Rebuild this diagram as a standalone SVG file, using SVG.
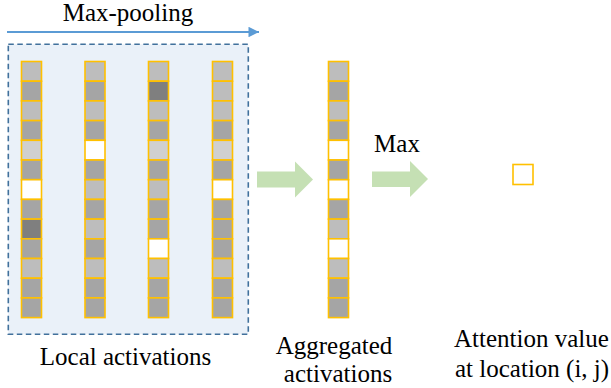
<svg xmlns="http://www.w3.org/2000/svg" width="611" height="388" viewBox="0 0 611 388">
<style>
  text { font-family: 'Liberation Serif', 'Times New Roman', Tinos, 'DejaVu Serif', serif; font-size: 25px; fill: #000; }
  .c rect { stroke: #ffc000; stroke-width: 1.6; }
  .a { fill: #bdbdbd; }
  .b { fill: #a5a5a5; }
  .l { fill: #d0d0d0; }
  .d { fill: #7f7f7f; }
  .w { fill: #ffffff; }
  .garrow { fill: #c5e0b4; }
</style>
<defs>
  <marker id="bh" viewBox="0 0 10 10" refX="10" refY="5" markerWidth="11" markerHeight="10.5" markerUnits="userSpaceOnUse" orient="auto">
    <path d="M0,0 L10,5 L0,10 z" fill="#5b9bd5"/>
  </marker>
</defs>
<rect width="611" height="388" fill="#ffffff"/>

<g id="local-activations">
  <rect x="8.3" y="44.3" width="240" height="290" fill="#eaf1f9" stroke="#41719c" stroke-width="1.6" stroke-dasharray="5.5,3.5"/>
  <g id="col1" class="c" transform="translate(21.5,61.5)">
    <rect class="a" x="0" y="0" width="20" height="19.7"/>
    <rect class="b" x="0" y="19.7" width="20" height="19.7"/>
    <rect class="a" x="0" y="39.4" width="20" height="19.7"/>
    <rect class="b" x="0" y="59.1" width="20" height="19.7"/>
    <rect class="l" x="0" y="78.8" width="20" height="19.7"/>
    <rect class="b" x="0" y="98.5" width="20" height="19.7"/>
    <rect class="w" x="0" y="118.2" width="20" height="19.7"/>
    <rect class="b" x="0" y="137.9" width="20" height="19.7"/>
    <rect class="d" x="0" y="157.6" width="20" height="19.7"/>
    <rect class="b" x="0" y="177.3" width="20" height="19.7"/>
    <rect class="a" x="0" y="197" width="20" height="19.7"/>
    <rect class="b" x="0" y="216.7" width="20" height="19.7"/>
    <rect class="b" x="0" y="236.4" width="20" height="19.7"/>
  </g>
  <g id="col2" class="c" transform="translate(85,61.5)">
    <rect class="a" x="0" y="0" width="20" height="19.7"/>
    <rect class="b" x="0" y="19.7" width="20" height="19.7"/>
    <rect class="a" x="0" y="39.4" width="20" height="19.7"/>
    <rect class="b" x="0" y="59.1" width="20" height="19.7"/>
    <rect class="w" x="0" y="78.8" width="20" height="19.7"/>
    <rect class="b" x="0" y="98.5" width="20" height="19.7"/>
    <rect class="a" x="0" y="118.2" width="20" height="19.7"/>
    <rect class="b" x="0" y="137.9" width="20" height="19.7"/>
    <rect class="a" x="0" y="157.6" width="20" height="19.7"/>
    <rect class="b" x="0" y="177.3" width="20" height="19.7"/>
    <rect class="a" x="0" y="197" width="20" height="19.7"/>
    <rect class="b" x="0" y="216.7" width="20" height="19.7"/>
    <rect class="b" x="0" y="236.4" width="20" height="19.7"/>
  </g>
  <g id="col3" class="c" transform="translate(148.5,61.5)">
    <rect class="a" x="0" y="0" width="20" height="19.7"/>
    <rect class="d" x="0" y="19.7" width="20" height="19.7"/>
    <rect class="a" x="0" y="39.4" width="20" height="19.7"/>
    <rect class="b" x="0" y="59.1" width="20" height="19.7"/>
    <rect class="l" x="0" y="78.8" width="20" height="19.7"/>
    <rect class="b" x="0" y="98.5" width="20" height="19.7"/>
    <rect class="a" x="0" y="118.2" width="20" height="19.7"/>
    <rect class="b" x="0" y="137.9" width="20" height="19.7"/>
    <rect class="b" x="0" y="157.6" width="20" height="19.7"/>
    <rect class="w" x="0" y="177.3" width="20" height="19.7"/>
    <rect class="a" x="0" y="197" width="20" height="19.7"/>
    <rect class="b" x="0" y="216.7" width="20" height="19.7"/>
    <rect class="b" x="0" y="236.4" width="20" height="19.7"/>
  </g>
  <g id="col4" class="c" transform="translate(212.5,61.5)">
    <rect class="a" x="0" y="0" width="20" height="19.7"/>
    <rect class="a" x="0" y="19.7" width="20" height="19.7"/>
    <rect class="a" x="0" y="39.4" width="20" height="19.7"/>
    <rect class="b" x="0" y="59.1" width="20" height="19.7"/>
    <rect class="l" x="0" y="78.8" width="20" height="19.7"/>
    <rect class="b" x="0" y="98.5" width="20" height="19.7"/>
    <rect class="w" x="0" y="118.2" width="20" height="19.7"/>
    <rect class="b" x="0" y="137.9" width="20" height="19.7"/>
    <rect class="b" x="0" y="157.6" width="20" height="19.7"/>
    <rect class="b" x="0" y="177.3" width="20" height="19.7"/>
    <rect class="a" x="0" y="197" width="20" height="19.7"/>
    <rect class="b" x="0" y="216.7" width="20" height="19.7"/>
    <rect class="b" x="0" y="236.4" width="20" height="19.7"/>
  </g>
  <text x="125.5" y="365" text-anchor="middle" font-family="Liberation Serif, serif">Local activations</text>
</g>

<g id="aggregated">
  <g class="c" transform="translate(328.5,61.5)">
    <rect class="a" x="0" y="0" width="20" height="19.7"/>
    <rect class="b" x="0" y="19.7" width="20" height="19.7"/>
    <rect class="a" x="0" y="39.4" width="20" height="19.7"/>
    <rect class="b" x="0" y="59.1" width="20" height="19.7"/>
    <rect class="w" x="0" y="78.8" width="20" height="19.7"/>
    <rect class="b" x="0" y="98.5" width="20" height="19.7"/>
    <rect class="w" x="0" y="118.2" width="20" height="19.7"/>
    <rect class="b" x="0" y="137.9" width="20" height="19.7"/>
    <rect class="a" x="0" y="157.6" width="20" height="19.7"/>
    <rect class="w" x="0" y="177.3" width="20" height="19.7"/>
    <rect class="a" x="0" y="197" width="20" height="19.7"/>
    <rect class="b" x="0" y="216.7" width="20" height="19.7"/>
    <rect class="b" x="0" y="236.4" width="20" height="19.7"/>
  </g>
  <text x="334" y="354" text-anchor="middle">Aggregated</text>
  <text x="338" y="382" text-anchor="middle">activations</text>
</g>

<g id="attention">
  <rect x="513" y="164.5" width="20" height="20" fill="#ffffff" stroke="#ffc000" stroke-width="1.6"/>
  <text x="454" y="347">Attention value</text>
  <text x="455" y="377">at location (i, j)</text>
</g>

<g id="connectors">
  <line x1="7" y1="32" x2="259" y2="32" stroke="#5b9bd5" stroke-width="2.2" marker-end="url(#bh)"/>
  <text x="128" y="20.5" text-anchor="middle">Max-pooling</text>
  <path class="garrow" d="M257,171.5 L295,171.5 L295,161.5 L313,179.5 L295,197.5 L295,187.5 L257,187.5 z"/>
  <path class="garrow" d="M372,171.5 L410,171.5 L410,161 L428,179 L410,197 L410,187 L372,187 z"/>
  <text x="397" y="152" text-anchor="middle">Max</text>
</g>
</svg>
